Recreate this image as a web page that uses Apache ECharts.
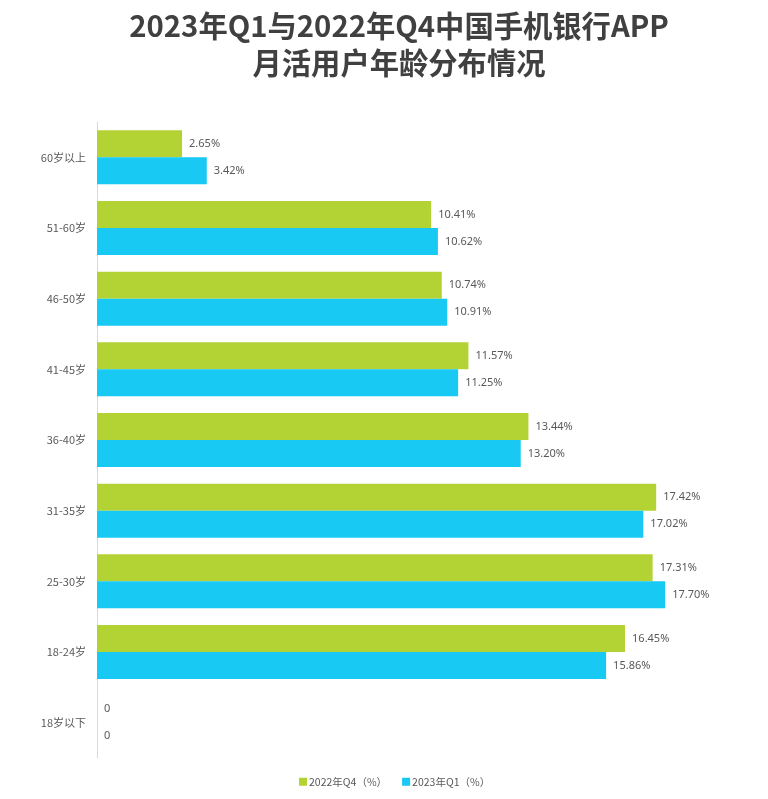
<!DOCTYPE html>
<html><head><meta charset="utf-8">
<script src="https://cdn.jsdelivr.net/npm/echarts@6/dist/echarts.min.js"></script>
<style>html,body{margin:0;padding:0;background:#fff}#c{width:768px;height:799px}</style>
</head><body><div id="c"></div>
<script>
const categories = ['18岁以下','18-24岁','25-30岁','31-35岁','36-40岁','41-45岁','46-50岁','51-60岁','60岁以上'];
const q4_2022 = [0, 16.45, 17.31, 17.42, 13.44, 11.57, 10.74, 10.41, 2.65];
const q1_2023 = [0, 15.86, 17.70, 17.02, 13.20, 11.25, 10.91, 10.62, 3.42];
const seriesNames = ['2022年Q4（%）', '2023年Q1（%）'];
const colors = ['#b3d334', '#17c9f3'];

const chart = echarts.init(document.getElementById('c'));
const fmt = p => p.value === 0 ? '0' : p.value.toFixed(2) + '%';
const lbl = {show: true, position: 'right', distance: 7, color: '#595959', fontSize: 11, fontFamily: 'Noto Sans', formatter: fmt};
chart.setOption({
  animation: false,
  title: {
    text: '2023年Q1与2022年Q4中国手机银行APP\n月活用户年龄分布情况',
    left: 394, top: 2, textAlign: 'center',
    textStyle: {fontSize: 29.3, fontWeight: 'bold', color: '#404040', lineHeight: 37, fontFamily: 'Noto Sans CJK SC'}
  },
  legend: {
    data: seriesNames, bottom: 7, left: 294, itemWidth: 8, itemHeight: 8, itemGap: 15,
    icon: 'rect',
    textStyle: {fontSize: 10.5, color: '#595959', fontFamily: 'Noto Sans CJK SC', padding: [0, 0, 0, -3]}
  },
  grid: {left: 97, right: 29, top: 122, bottom: 41, containLabel: false},
  xAxis: {type: 'value', min: 0, max: 20, show: false},
  yAxis: {
    type: 'category', data: categories,
    axisLine: {lineStyle: {color: '#d9d9d9'}},
    axisTick: {show: false},
    axisLabel: {color: '#595959', fontSize: 11, margin: 11, fontFamily: 'Noto Sans CJK SC'}
  },
  series: [
    {name: seriesNames[0], type: 'bar', data: q4_2022, barWidth: 27, barGap: '0%', itemStyle: {color: colors[0]}, label: lbl},
    {name: seriesNames[1], type: 'bar', data: q1_2023, barWidth: 27, barGap: '0%', itemStyle: {color: colors[1]}, label: lbl}
  ]
});
</script></body></html>
